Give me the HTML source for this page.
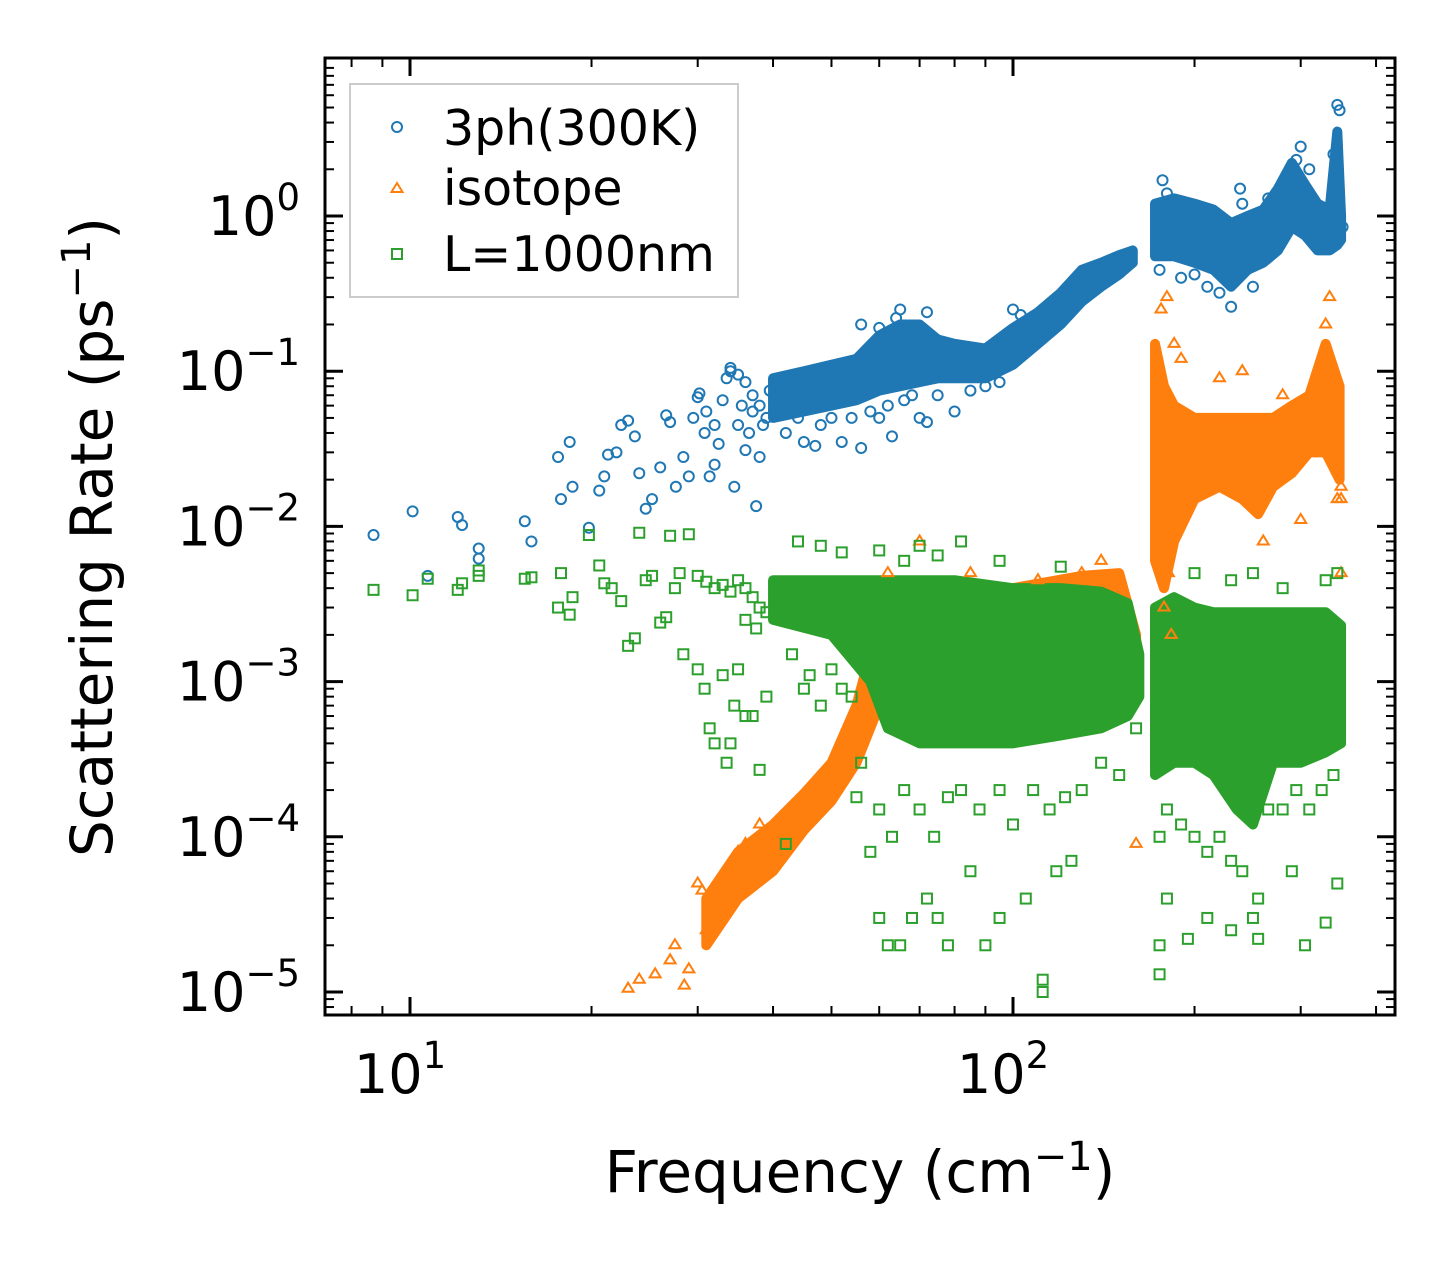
<!DOCTYPE html>
<html><head><meta charset="utf-8"><style>
html,body{margin:0;padding:0;background:#fff;}
svg{display:block;font-family:"DejaVu Sans","Liberation Sans",sans-serif;}
</style></head><body>
<svg id="chart" width="1455" height="1265" viewBox="0 0 1455 1265" xmlns="http://www.w3.org/2000/svg">
<rect width="1455" height="1265" fill="#fff"/>
<g id="bands"></g>
<g id="marks"></g>
<g id="axes"></g>
<g>
<rect x="350" y="84" width="388" height="213" fill="#fff" fill-opacity="0.8" stroke="#cccccc" stroke-width="2"/>
<g><circle cx="397" cy="127" r="5" fill="none" stroke="#1f77b4" stroke-width="2"/><text x="443" y="145" font-size="49">3ph(300K)</text></g>
<g><polygon points="397,183 402.5,192 391.5,192" fill="none" stroke="#ff7f0e" stroke-width="2"/><text x="443" y="205" font-size="49">isotope</text></g>
<g><rect x="392" y="249" width="10" height="10" fill="none" stroke="#2ca02c" stroke-width="2"/><text x="443" y="271" font-size="49">L=1000nm</text></g>
</g>
<text x="860" y="1192" font-size="58" text-anchor="middle">Frequency (cm<tspan dy="-22" font-size="40">−1</tspan><tspan dy="22">)</tspan></text>
<text transform="translate(112,537) rotate(-90)" font-size="58" text-anchor="middle">Scattering Rate (ps<tspan dy="-22" font-size="40">−1</tspan><tspan dy="22">)</tspan></text>
</svg>
<script>
const NS="http://www.w3.org/2000/svg";
const xTicks=[10,100];
const xTickLabels=["10","10"];
const xTickExp=["1","2"];
const yTicks=[1,0.1,0.01,0.001,0.0001,0.00001];
const yTickExp=["0","−1","−2","−3","−4","−5"];
// dense envelopes: [freq, low, high]
const band3ph=[[40,0.05,0.09],[45,0.055,0.1],[50,0.06,0.11],[55,0.065,0.12],[60,0.075,0.17],[65,0.08,0.2],[70,0.085,0.2],[75,0.09,0.16],[80,0.09,0.15],[90,0.09,0.14],[100,0.11,0.19],[110,0.15,0.24],[120,0.2,0.32],[130,0.28,0.45],[140,0.35,0.5],[150,0.42,0.56],[158,0.5,0.6]];
const band3phHigh=[[172,0.55,1.2],[185,0.55,1.3],[200,0.5,1.2],[215,0.45,1.1],[230,0.35,0.9],[245,0.45,1.0],[260,0.5,1.1],[275,0.6,1.5],[290,0.85,2.2],[305,0.75,1.6],[320,0.6,1.2],[335,0.6,1.1],[345,0.65,3.5],[350,0.7,1.0]];
const bandIsoLow=[[31,2e-5,4e-5],[35,4e-5,8e-5],[40,6e-5,1.2e-4],[45,1.1e-4,1.9e-4],[50,1.7e-4,3e-4],[55,3e-4,7e-4],[60,7e-4,2.5e-3]];
const bandIsoMid=[[60,1e-3,3.5e-3],[80,1e-3,4e-3],[100,1e-3,4e-3],[130,1e-3,4.8e-3],[150,1e-3,5e-3],[160,8e-4,2e-3]];
const bandIsoHigh=[[172,0.006,0.15],[178,0.004,0.08],[185,0.008,0.06],[200,0.015,0.05],[220,0.018,0.05],[240,0.015,0.05],[255,0.012,0.05],[270,0.018,0.05],[290,0.022,0.06],[310,0.03,0.07],[330,0.03,0.15],[348,0.02,0.08]];
const bandGreenMid=[[40,2.5e-3,4.5e-3],[50,2e-3,4.5e-3],[58,1e-3,4.5e-3],[62,5e-4,4.5e-3],[70,4e-4,4.5e-3],[80,4e-4,4.5e-3],[100,4e-4,4e-3],[120,4.5e-4,4e-3],[140,5e-4,3.8e-3],[155,6e-4,3.2e-3],[162,8e-4,1.5e-3]];
const bandGreenHigh=[[172,2.5e-4,3e-3],[185,3e-4,3.5e-3],[200,3e-4,3e-3],[215,2.5e-4,2.8e-3],[235,1.5e-4,2.8e-3],[250,1.2e-4,2.8e-3],[270,3e-4,2.8e-3],[300,3e-4,2.8e-3],[330,3.5e-4,2.8e-3],[350,4e-4,2.3e-3]];
// individual points [freq, rate]
const pts3ph=[[8.7,0.0088],[10.1,0.0125],[10.7,0.0048],[12,0.0115],[12.2,0.0102],[13,0.0072],[13,0.0062],[15.5,0.0108],[15.9,0.008],[17.6,0.028],[17.8,0.015],[18.4,0.035],[18.6,0.018],[19.8,0.0098],[20.6,0.017],[21,0.021],[21.3,0.029],[22,0.03],[22.4,0.045],[23,0.048],[23.6,0.038],[24,0.022],[24.6,0.013],[25.2,0.015],[26,0.024],[26.6,0.052],[27,0.047],[27.6,0.018],[28.4,0.028],[29,0.021],[29.5,0.05],[30,0.068],[30.2,0.072],[30.8,0.04],[31.4,0.021],[32,0.025],[32.5,0.034],[33.5,0.09],[34,0.105],[34.5,0.018],[35,0.045],[35.5,0.06],[36,0.031],[37,0.055],[37.5,0.0135],[38,0.028],[39,0.05],[34,0.1],[35,0.095],[36,0.085],[37,0.07],[38,0.06],[33,0.065],[32,0.045],[31,0.055],[36.5,0.04],[38.5,0.045],[39.5,0.075],[42,0.04],[45,0.035],[47,0.033],[52,0.035],[56,0.032],[60,0.05],[63,0.038],[70,0.05],[72,0.047],[75,0.07],[80,0.055],[90,0.08],[56,0.2],[65,0.25],[72,0.24],[42,0.06],[44,0.05],[48,0.045],[50,0.05],[54,0.05],[58,0.055],[62,0.06],[66,0.065],[68,0.07],[85,0.075],[95,0.085],[100,0.25],[103,0.23],[60,0.19],[64,0.22],[137,0.42],[177,1.7],[180,1.4],[175,0.45],[190,0.4],[200,0.42],[210,0.35],[220,0.32],[230,0.26],[238,1.5],[240,1.2],[250,0.35],[265,1.3],[300,2.8],[295,2.3],[310,2.0],[345,5.2],[348,4.8],[340,2.5],[352,0.85]];
const ptsIso=[[23,1.05e-5],[24,1.2e-5],[25.5,1.3e-5],[27,1.6e-5],[27.5,2e-5],[28.5,1.1e-5],[29,1.4e-5],[30,5e-5],[30.5,4.5e-5],[31,2.5e-5],[32,3e-5],[33,4e-5],[34,6e-5],[35,8e-5],[36,9e-5],[38,1.2e-4],[43,1.5e-4],[46,2e-4],[52,4e-4],[56,9e-4],[70,8e-3],[62,5e-3],[85,5e-3],[140,6e-3],[130,5e-3],[110,4.5e-3],[160,9e-5],[175,0.02],[176,0.25],[180,0.3],[181,0.005],[185,0.15],[190,0.12],[178,0.003],[183,0.002],[300,0.011],[345,0.015],[350,0.005],[350,0.015],[350,0.018],[335,0.3],[330,0.2],[240,0.1],[220,0.09],[260,0.008],[280,0.07]];
const ptsGreen=[[8.7,0.0039],[10.1,0.0036],[10.7,0.0046],[12,0.0039],[12.2,0.0043],[13,0.0048],[13,0.0052],[15.5,0.0046],[15.9,0.0047],[17.6,0.003],[17.8,0.005],[18.4,0.0027],[18.6,0.0035],[19.8,0.0088],[20.6,0.0056],[21,0.0043],[21.6,0.004],[22.4,0.0033],[23,0.0017],[23.6,0.0019],[24,0.0091],[24.6,0.0045],[25.2,0.0048],[26,0.0024],[26.6,0.0026],[27,0.0087],[28.4,0.0015],[29,0.0089],[30,0.0012],[30.8,0.0009],[31.4,0.0005],[32,0.0004],[33,0.0011],[33.5,0.0003],[34,0.0004],[34.5,0.0007],[35,0.0012],[36,0.0006],[37,0.0006],[38,0.00027],[39,0.0008],[27.5,0.004],[28,0.005],[30,0.0048],[31,0.0044],[32,0.004],[33,0.0042],[34,0.0038],[35,0.0045],[36,0.004],[37,0.0035],[38,0.003],[39,0.0028],[36,0.0025],[37.5,0.0022],[42,0.00009],[45,0.0009],[48,0.0007],[43,0.0015],[46,0.0011],[50,0.0012],[52,0.0009],[54,0.0008],[44,0.008],[48,0.0075],[52,0.0068],[55,0.00018],[58,0.00008],[56,0.0003],[60,0.00003],[62,0.00002],[65,0.00002],[68,0.00003],[72,0.00004],[75,0.00003],[78,0.00002],[85,0.00006],[90,0.00002],[95,0.00003],[105,0.00004],[112,0.000012],[112,0.00001],[118,0.00006],[125,0.00007],[60,0.00015],[63,0.0001],[66,0.0002],[70,0.00015],[74,0.0001],[78,0.00018],[82,0.0002],[88,0.00015],[95,0.0002],[100,0.00012],[108,0.0002],[115,0.00015],[122,0.00018],[130,0.0002],[140,0.0003],[150,0.00025],[160,0.0005],[175,0.000013],[175,0.00002],[180,0.00004],[195,0.000022],[210,0.00003],[230,0.000025],[250,0.00003],[255,0.000022],[290,0.00006],[305,0.00002],[330,0.000028],[345,0.00005],[175,0.0001],[180,0.00015],[190,0.00012],[200,0.0001],[210,0.00008],[220,0.0001],[230,0.00007],[240,0.00006],[255,0.00004],[265,0.00015],[280,0.00015],[295,0.0002],[310,0.00015],[325,0.0002],[340,0.00025],[60,0.007],[70,0.0075],[82,0.008],[66,0.006],[75,0.0065],[95,0.006],[120,0.0055],[250,0.005],[230,0.0045],[200,0.005],[280,0.004],[330,0.0045],[345,0.005]];
const X0=410,XD=603,Y0=216,YD=155.2,L=325,R=1395,T=58,B=1015;
const xs=v=>X0+XD*(Math.log10(v)-1);
const ys=v=>Y0-YD*Math.log10(v);
const C={b:"#1f77b4",o:"#ff7f0e",g:"#2ca02c"};
function band(data,color,name){
  const p=document.createElementNS(NS,"polygon");
  const up=data.map(d=>xs(d[0])+","+ys(d[2]));
  const lo=data.slice().reverse().map(d=>xs(d[0])+","+ys(d[1]));
  p.setAttribute("points",up.concat(lo).join(" "));
  p.setAttribute("fill",color);p.setAttribute("stroke",color);p.setAttribute("stroke-width","10");p.setAttribute("stroke-linejoin","round");
  
  
  document.getElementById("bands").appendChild(p);
}
function marker(kind,x,y){
  let e;
  if(kind==="b"){e=document.createElementNS(NS,"circle");e.setAttribute("cx",x);e.setAttribute("cy",y);e.setAttribute("r",5);}
  else if(kind==="o"){e=document.createElementNS(NS,"polygon");e.setAttribute("points",`${x},${y-6} ${x+5.5},${y+3} ${x-5.5},${y+3}`);}
  else{e=document.createElementNS(NS,"rect");e.setAttribute("x",x-5);e.setAttribute("y",y-5);e.setAttribute("width",10);e.setAttribute("height",10);}
  e.setAttribute("fill","none");e.setAttribute("stroke",C[kind]);e.setAttribute("stroke-width","2");
  return e;
}
const marks=document.getElementById("marks");
band(band3ph,C.b,"band-3ph-low");band(band3phHigh,C.b,"band-3ph-high");
pts3ph.forEach(d=>{const e=marker("b",xs(d[0]),ys(d[1]));
marks.appendChild(e);});
band(bandIsoLow,C.o,"band-isotope-low");band(bandIsoMid,C.o,"band-isotope-mid");band(bandIsoHigh,C.o,"band-isotope-high");
ptsIso.forEach(d=>{const e=marker("o",xs(d[0]),ys(d[1]));
marks.appendChild(e);});
band(bandGreenMid,C.g,"band-boundary-mid");band(bandGreenHigh,C.g,"band-boundary-high");
ptsGreen.forEach(d=>{const e=marker("g",xs(d[0]),ys(d[1]));
marks.appendChild(e);});
// axes
const ax=document.getElementById("axes");
function line(x1,y1,x2,y2,w){const l=document.createElementNS(NS,"line");l.setAttribute("x1",x1);l.setAttribute("y1",y1);l.setAttribute("x2",x2);l.setAttribute("y2",y2);l.setAttribute("stroke","#000");l.setAttribute("stroke-width",w);ax.appendChild(l);return l;}
const fr=document.createElementNS(NS,"rect");fr.setAttribute("x",L);fr.setAttribute("y",T);fr.setAttribute("width",R-L);fr.setAttribute("height",B-T);fr.setAttribute("fill","none");fr.setAttribute("stroke","#000");fr.setAttribute("stroke-width","3");


ax.appendChild(fr);
[8,9,20,30,40,50,60,70,80,90,200,300,400].forEach(v=>{const x=xs(v);line(x,B,x,B-9,2);line(x,T,x,T+9,2);});
xTicks.forEach((v,i)=>{const x=xs(v);line(x,B,x,B-18,3);line(x,T,x,T+18,3);
 const t=document.createElementNS(NS,"text");t.setAttribute("x",x-10);t.setAttribute("y",1093);t.setAttribute("font-size","54");t.setAttribute("text-anchor","middle");
 t.innerHTML=xTickLabels[i]+'<tspan dy="-25" font-size="37">'+xTickExp[i]+'</tspan>';
 
 
 ax.appendChild(t);});
for(let e=-6;e<=1;e++){for(let m=2;m<=9;m++){const v=m*Math.pow(10,e);const y=ys(v);if(y>T&&y<B){line(L,y,L+9,y,2);line(R,y,R-9,y,2);}}}
yTicks.forEach((v,i)=>{const y=ys(v);line(L,y,L+18,y,3);line(R,y,R-18,y,3);
 const t=document.createElementNS(NS,"text");t.setAttribute("x",300);t.setAttribute("y",y+19);t.setAttribute("font-size","54");t.setAttribute("text-anchor","end");
 t.innerHTML='10<tspan dy="-25" font-size="37">'+yTickExp[i]+'</tspan>';
 
 
 ax.appendChild(t);});
</script>
</body></html>
